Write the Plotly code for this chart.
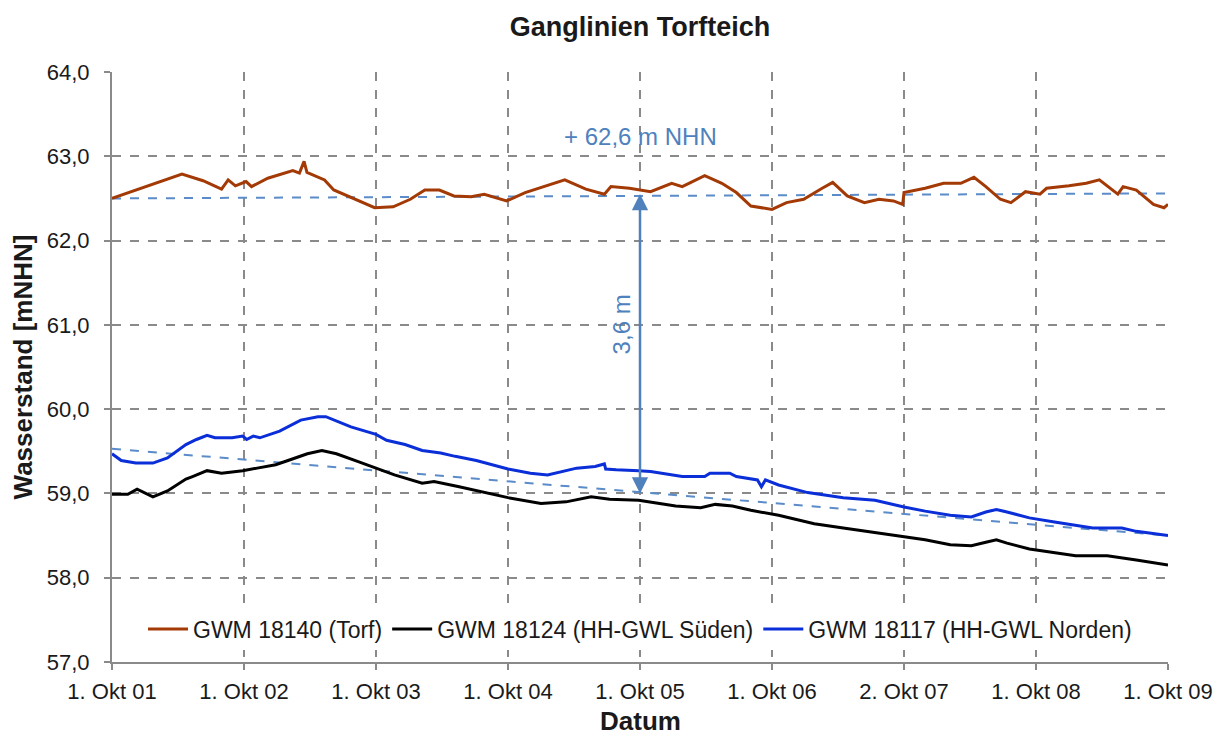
import plotly.graph_objects as go

# ---- data (x in years since 1 Oct 2001) ----
tick_vals = [0, 1, 2, 3, 4, 5, 6, 7, 8]
tick_labels = ["1. Okt 01", "1. Okt 02", "1. Okt 03", "1. Okt 04", "1. Okt 05",
               "1. Okt 06", "2. Okt 07", "1. Okt 08", "1. Okt 09"]

torf_t = [0.0, 0.53, 0.69, 0.83, 0.88, 0.935, 1.016, 1.057, 1.18, 1.37, 1.42, 1.455, 1.477,
          1.61, 1.68, 1.80, 1.99, 2.13, 2.26, 2.37, 2.48, 2.59, 2.72, 2.82, 2.99, 3.13, 3.27,
          3.43, 3.59, 3.73, 3.78, 3.92, 4.08, 4.24, 4.32, 4.49, 4.62, 4.73, 4.84, 5.0, 5.11,
          5.24, 5.38, 5.46, 5.57, 5.70, 5.81, 5.92, 5.99, 6.0, 6.16, 6.30, 6.43, 6.53, 6.62,
          6.73, 6.81, 6.92, 7.03, 7.08, 7.25, 7.38, 7.48, 7.62, 7.66, 7.76, 7.89, 7.97, 8.0]
torf_v = [62.50, 62.79, 62.71, 62.61, 62.72, 62.65, 62.70, 62.64, 62.74, 62.83, 62.80, 62.94, 62.81,
          62.72, 62.60, 62.52, 62.39, 62.40, 62.49, 62.60, 62.60, 62.53, 62.52, 62.55, 62.47, 62.57, 62.64,
          62.72, 62.61, 62.55, 62.64, 62.62, 62.58, 62.68, 62.64, 62.77, 62.68, 62.57, 62.41, 62.37, 62.45,
          62.49, 62.62, 62.69, 62.53, 62.45, 62.49, 62.47, 62.43, 62.57, 62.62, 62.68, 62.68, 62.75, 62.64,
          62.49, 62.45, 62.58, 62.55, 62.62, 62.65, 62.68, 62.72, 62.55, 62.64, 62.60, 62.43, 62.39, 62.43]

sued_t = [0.0, 0.12, 0.19, 0.31, 0.42, 0.49, 0.56, 0.61, 0.72, 0.83, 0.99, 1.10, 1.24, 1.35, 1.48,
          1.59, 1.70, 1.86, 2.0, 2.14, 2.35, 2.44, 2.63, 3.0, 3.25, 3.44, 3.63, 3.77, 3.99, 4.08,
          4.27, 4.46, 4.57, 4.70, 4.84, 5.05, 5.32, 5.54, 5.81, 6.0, 6.16, 6.35, 6.51, 6.62, 6.70,
          6.78, 6.95, 7.30, 7.54, 7.76, 8.0]
sued_v = [58.99, 58.99, 59.05, 58.96, 59.03, 59.10, 59.17, 59.20, 59.27, 59.24, 59.27, 59.30, 59.34, 59.40, 59.47,
          59.51, 59.47, 59.38, 59.30, 59.22, 59.12, 59.14, 59.08, 58.95, 58.88, 58.90, 58.96, 58.93, 58.92, 58.90,
          58.85, 58.83, 58.87, 58.85, 58.80, 58.74, 58.64, 58.59, 58.53, 58.49, 58.45, 58.39, 58.38, 58.42, 58.45,
          58.41, 58.34, 58.26, 58.26, 58.21, 58.15]

nord_t = [0.0, 0.07, 0.18, 0.31, 0.42, 0.56, 0.64, 0.72, 0.78, 0.91, 0.99, 1.02, 1.07, 1.12, 1.27,
          1.43, 1.56, 1.62, 1.81, 2.0, 2.08, 2.22, 2.35, 2.49, 2.60, 2.76, 3.0, 3.17, 3.30, 3.41,
          3.52, 3.66, 3.73, 3.74, 3.82, 3.99, 4.08, 4.32, 4.49, 4.53, 4.68, 4.73, 4.89, 4.92, 4.95,
          5.05, 5.27, 5.54, 5.78, 6.0, 6.16, 6.35, 6.51, 6.62, 6.70, 6.78, 6.95, 7.14, 7.30, 7.43,
          7.65, 7.76, 8.0]
nord_v = [59.47, 59.39, 59.36, 59.36, 59.42, 59.58, 59.64, 59.69, 59.66, 59.66, 59.68, 59.64, 59.68, 59.66, 59.74,
          59.87, 59.91, 59.91, 59.79, 59.70, 59.63, 59.58, 59.51, 59.48, 59.44, 59.39, 59.29, 59.24, 59.22, 59.26,
          59.30, 59.32, 59.35, 59.29, 59.28, 59.27, 59.26, 59.20, 59.20, 59.24, 59.24, 59.20, 59.16, 59.08, 59.16,
          59.10, 59.01, 58.95, 58.92, 58.84, 58.79, 58.74, 58.72, 58.78, 58.81, 58.78, 58.71, 58.66, 58.62, 58.59,
          58.59, 58.55, 58.50]

trend_top_t = [0, 8]
trend_top_v = [62.50, 62.56]
trend_low_t = [0, 8]
trend_low_v = [59.53, 58.50]

arrow_t = 4.0
arrow_top = 62.57
arrow_bottom = 59.0

# ---- figure ----
grid_col = "#8a8a8a"
note_col = "#4f81bd"
font_fam = "Liberation Sans, Arial, sans-serif"
W, H = 1219, 728
PLOT_H = 590

fig = go.Figure()
fig.add_trace(go.Scatter(x=trend_top_t, y=trend_top_v, mode="lines", showlegend=False,
                         line=dict(color="#5b8cc9", width=2, dash="dash")))
fig.add_trace(go.Scatter(x=trend_low_t, y=trend_low_v, mode="lines", showlegend=False,
                         line=dict(color="#5b8cc9", width=2, dash="dash")))
fig.add_trace(go.Scatter(x=torf_t, y=torf_v, mode="lines", name="GWM 18140 (Torf)",
                         line=dict(color="#a33a06", width=3)))
fig.add_trace(go.Scatter(x=sued_t, y=sued_v, mode="lines", name="GWM 18124 (HH-GWL Süden)",
                         line=dict(color="#000000", width=3)))
fig.add_trace(go.Scatter(x=nord_t, y=nord_v, mode="lines", name="GWM 18117 (HH-GWL Norden)",
                         line=dict(color="#0a2ed8", width=3)))

# double-headed arrow
fig.add_annotation(x=arrow_t, y=arrow_bottom, ax=arrow_t, ay=arrow_top, xref="x", yref="y",
                   axref="x", ayref="y", text="", showarrow=True, arrowhead=2, startarrowhead=2,
                   arrowside="end+start", arrowsize=1.3, arrowwidth=2.5, arrowcolor=note_col)
fig.add_annotation(x=4.0, y=63.23, xref="x", yref="y", text="+ 62,6 m NHN", showarrow=False,
                   font=dict(family=font_fam, size=24, color=note_col))
fig.add_annotation(x=3.86, y=61.0, xref="x", yref="y", text="3,6 m", showarrow=False, textangle=-90,
                   font=dict(family=font_fam, size=24, color=note_col))
# x-axis title placed below the tick labels
fig.add_annotation(x=0.5, y=-59 / PLOT_H, xref="paper", yref="paper", text="<b>Datum</b>",
                   showarrow=False, xanchor="center", yanchor="middle",
                   font=dict(family=font_fam, size=26, color="#1a1a1a"))

fig.update_layout(
    width=W, height=H,
    margin=dict(l=104, r=59, t=64, b=74, autoexpand=False),
    paper_bgcolor="white", plot_bgcolor="white",
    separators=",.",
    font=dict(family=font_fam, size=22, color="#1a1a1a"),
    title=dict(text="<b>Ganglinien Torfteich</b>", x=632 / W, xanchor="center",
               y=1 - 19 / H, yanchor="middle", font=dict(size=27, color="#1a1a1a")),
    legend=dict(orientation="h", x=0.5, xanchor="center", y=0.056, yanchor="middle",
                bgcolor="white", font=dict(size=23), itemwidth=40, tracegroupgap=0),
    showlegend=True,
)
fig.update_xaxes(range=[0, 8], tickvals=tick_vals, ticktext=tick_labels, automargin=False,
                 showgrid=True, gridcolor=grid_col, griddash="dash", gridwidth=1.5,
                 showline=True, linecolor=grid_col, linewidth=2, ticks="outside",
                 tickcolor=grid_col, ticklen=6, tickwidth=1.5, zeroline=False,
                 tickfont=dict(size=22), ticklabelstandoff=3)
fig.update_yaxes(range=[57, 64], dtick=1, tick0=57, tickformat=".1f", automargin=False,
                 showgrid=True, gridcolor=grid_col, griddash="dash", gridwidth=1.5,
                 showline=True, linecolor=grid_col, linewidth=2, ticks="outside",
                 tickcolor=grid_col, ticklen=6, tickwidth=1.5, zeroline=False,
                 tickfont=dict(size=22), ticklabelstandoff=10,
                 title=dict(text="<b>Wasserstand [mNHN]</b>", font=dict(size=26), standoff=8))

fig.write_html("out.html")
